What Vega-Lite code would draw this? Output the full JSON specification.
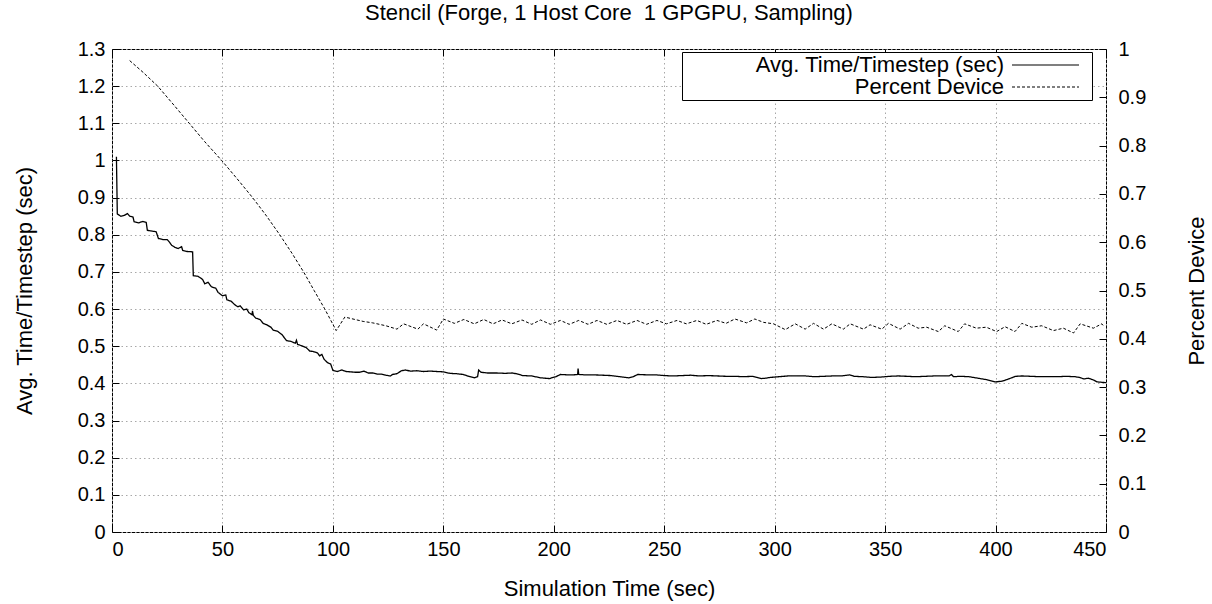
{
  "$schema": "https://vega.github.io/schema/vega-lite/v6.json",
  "width": 994,
  "height": 483,
  "autosize": {"type": "none"},
  "padding": {"left": 112, "top": 49, "right": 106, "bottom": 72},
  "background": "white",
  "title": {"text": "Stencil (Forge, 1 Host Core \u00a01 GPGPU, Sampling)", "font": "Liberation Sans", "fontSize": 22, "fontWeight": "normal", "color": "black", "baseline": "alphabetic", "offset": -3, "anchor": "middle"},
  "datasets": {
    "time": [
      {"t":2,"v":1.01},{"t":2.4,"v":0.856},{"t":4,"v":0.85},{"t":5.5,"v":0.852},{"t":7,"v":0.857},{"t":8,"v":0.85},{"t":9.5,"v":0.848},{"t":10,"v":0.835},{"t":12,"v":0.832},{"t":14,"v":0.836},{"t":15.5,"v":0.833},{"t":16,"v":0.812},{"t":18,"v":0.81},{"t":20,"v":0.808},{"t":21,"v":0.79},{"t":23,"v":0.787},{"t":25,"v":0.787},{"t":26,"v":0.78},{"t":27,"v":0.772},{"t":28.5,"v":0.766},{"t":30,"v":0.763},{"t":31.5,"v":0.768},{"t":32,"v":0.758},{"t":34,"v":0.755},{"t":36.5,"v":0.754},{"t":36.8,"v":0.69},{"t":39,"v":0.688},{"t":41,"v":0.68},{"t":42,"v":0.668},{"t":43.5,"v":0.672},{"t":45,"v":0.66},{"t":47,"v":0.656},{"t":48,"v":0.645},{"t":50,"v":0.636},{"t":51.5,"v":0.638},{"t":52,"v":0.625},{"t":54,"v":0.621},{"t":55.5,"v":0.612},{"t":57,"v":0.606},{"t":58,"v":0.609},{"t":59.5,"v":0.598},{"t":61,"v":0.6},{"t":62,"v":0.59},{"t":63.4,"v":0.585},{"t":63.6,"v":0.595},{"t":64,"v":0.583},{"t":65,"v":0.576},{"t":67,"v":0.572},{"t":68.5,"v":0.561},{"t":70,"v":0.558},{"t":72,"v":0.551},{"t":73,"v":0.543},{"t":75,"v":0.54},{"t":77,"v":0.531},{"t":79,"v":0.515},{"t":81,"v":0.513},{"t":83,"v":0.508},{"t":83.5,"v":0.516},{"t":84,"v":0.505},{"t":86,"v":0.501},{"t":88,"v":0.496},{"t":89.5,"v":0.487},{"t":91,"v":0.486},{"t":93,"v":0.482},{"t":94,"v":0.474},{"t":95,"v":0.478},{"t":96,"v":0.465},{"t":97.5,"v":0.456},{"t":99,"v":0.452},{"t":100,"v":0.435},{"t":102,"v":0.432},{"t":104,"v":0.436},{"t":106,"v":0.432},{"t":108,"v":0.431},{"t":110,"v":0.43},{"t":112,"v":0.43},{"t":114,"v":0.433},{"t":116,"v":0.428},{"t":118,"v":0.428},{"t":120,"v":0.425},{"t":122,"v":0.425},{"t":124,"v":0.422},{"t":126,"v":0.42},{"t":127,"v":0.424},{"t":129,"v":0.426},{"t":131,"v":0.434},{"t":133,"v":0.436},{"t":135,"v":0.433},{"t":138,"v":0.434},{"t":141,"v":0.432},{"t":144,"v":0.433},{"t":147,"v":0.432},{"t":150,"v":0.431},{"t":153,"v":0.427},{"t":156,"v":0.426},{"t":159,"v":0.424},{"t":162,"v":0.418},{"t":164,"v":0.415},{"t":165.5,"v":0.418},{"t":166,"v":0.436},{"t":167,"v":0.43},{"t":170,"v":0.428},{"t":174,"v":0.428},{"t":178,"v":0.427},{"t":181,"v":0.428},{"t":183,"v":0.426},{"t":186,"v":0.421},{"t":190,"v":0.42},{"t":194,"v":0.415},{"t":198,"v":0.413},{"t":201,"v":0.418},{"t":203,"v":0.424},{"t":206,"v":0.423},{"t":209,"v":0.423},{"t":210.8,"v":0.424},{"t":211,"v":0.44},{"t":211.3,"v":0.424},{"t":214,"v":0.423},{"t":218,"v":0.423},{"t":222,"v":0.422},{"t":226,"v":0.421},{"t":230,"v":0.418},{"t":234,"v":0.415},{"t":236,"v":0.418},{"t":238,"v":0.424},{"t":242,"v":0.423},{"t":246,"v":0.423},{"t":250,"v":0.421},{"t":254,"v":0.42},{"t":258,"v":0.421},{"t":262,"v":0.422},{"t":266,"v":0.42},{"t":270,"v":0.421},{"t":274,"v":0.42},{"t":278,"v":0.419},{"t":282,"v":0.419},{"t":286,"v":0.418},{"t":290,"v":0.419},{"t":292,"v":0.416},{"t":294,"v":0.413},{"t":296,"v":0.414},{"t":298,"v":0.416},{"t":302,"v":0.418},{"t":306,"v":0.42},{"t":310,"v":0.42},{"t":314,"v":0.42},{"t":318,"v":0.418},{"t":322,"v":0.419},{"t":326,"v":0.42},{"t":330,"v":0.42},{"t":334,"v":0.423},{"t":336,"v":0.419},{"t":340,"v":0.418},{"t":344,"v":0.416},{"t":348,"v":0.417},{"t":352,"v":0.419},{"t":356,"v":0.42},{"t":360,"v":0.419},{"t":364,"v":0.418},{"t":368,"v":0.419},{"t":372,"v":0.42},{"t":376,"v":0.42},{"t":379,"v":0.42},{"t":380,"v":0.424},{"t":381,"v":0.418},{"t":384,"v":0.419},{"t":388,"v":0.418},{"t":392,"v":0.414},{"t":396,"v":0.41},{"t":400,"v":0.404},{"t":403,"v":0.406},{"t":406,"v":0.412},{"t":409,"v":0.419},{"t":412,"v":0.42},{"t":416,"v":0.419},{"t":420,"v":0.418},{"t":424,"v":0.418},{"t":428,"v":0.418},{"t":432,"v":0.419},{"t":436,"v":0.418},{"t":438,"v":0.416},{"t":440,"v":0.412},{"t":442,"v":0.414},{"t":444,"v":0.41},{"t":446,"v":0.404},{"t":450,"v":0.402}
    ],
    "pct": [
      {"t":8,"v":0.976},{"t":14,"v":0.952},{"t":20.7,"v":0.923},{"t":28,"v":0.884},{"t":35,"v":0.846},{"t":42,"v":0.808},{"t":49.7,"v":0.769},{"t":56.7,"v":0.731},{"t":63.7,"v":0.692},{"t":70,"v":0.654},{"t":76,"v":0.615},{"t":81.5,"v":0.577},{"t":86.8,"v":0.538},{"t":91.5,"v":0.5},{"t":96.3,"v":0.462},{"t":101.5,"v":0.417},{"t":105.4,"v":0.445},{"t":110,"v":0.44},{"t":113.7,"v":0.436},{"t":118,"v":0.433},{"t":124,"v":0.427},{"t":129,"v":0.42},{"t":132,"v":0.431},{"t":138.5,"v":0.42},{"t":141,"v":0.431},{"t":147,"v":0.418},{"t":150,"v":0.441},{"t":155,"v":0.432},{"t":159.3,"v":0.44},{"t":164,"v":0.431},{"t":168.3,"v":0.44},{"t":172.5,"v":0.431},{"t":176.6,"v":0.439},{"t":181,"v":0.431},{"t":185.6,"v":0.439},{"t":190,"v":0.43},{"t":194,"v":0.439},{"t":198.5,"v":0.43},{"t":203,"v":0.438},{"t":207,"v":0.43},{"t":211.3,"v":0.438},{"t":215.5,"v":0.43},{"t":219.6,"v":0.438},{"t":224,"v":0.43},{"t":228.6,"v":0.438},{"t":233,"v":0.43},{"t":237.7,"v":0.438},{"t":242,"v":0.43},{"t":246.7,"v":0.438},{"t":251,"v":0.431},{"t":255.8,"v":0.438},{"t":260,"v":0.431},{"t":264.8,"v":0.438},{"t":269,"v":0.43},{"t":273.9,"v":0.438},{"t":278,"v":0.432},{"t":282,"v":0.441},{"t":287.3,"v":0.433},{"t":291,"v":0.441},{"t":295,"v":0.434},{"t":299.5,"v":0.431},{"t":304.8,"v":0.419},{"t":309.3,"v":0.431},{"t":313.8,"v":0.42},{"t":317.6,"v":0.432},{"t":322.1,"v":0.42},{"t":325.9,"v":0.431},{"t":331.1,"v":0.42},{"t":334.2,"v":0.431},{"t":340.2,"v":0.42},{"t":343.2,"v":0.429},{"t":348.5,"v":0.42},{"t":351.5,"v":0.432},{"t":356.8,"v":0.42},{"t":360.6,"v":0.432},{"t":365,"v":0.422},{"t":368.8,"v":0.424},{"t":374.1,"v":0.415},{"t":377,"v":0.427},{"t":383.1,"v":0.415},{"t":386,"v":0.431},{"t":391.3,"v":0.422},{"t":395.8,"v":0.424},{"t":400.5,"v":0.415},{"t":404.3,"v":0.425},{"t":408.8,"v":0.415},{"t":411.9,"v":0.432},{"t":416.4,"v":0.424},{"t":420.9,"v":0.427},{"t":426.2,"v":0.417},{"t":430.7,"v":0.422},{"t":435.3,"v":0.412},{"t":438.3,"v":0.431},{"t":444.3,"v":0.422},{"t":448.1,"v":0.431},{"t":449,"v":0.426}
    ]
  },
  "layer": [
    {
      "data": {"name": "time"},
      "mark": {"type": "line", "color": "black", "strokeWidth": 1.3},
      "encoding": {
        "x": {"field": "t", "type": "quantitative", "scale": {"domain": [0, 450], "nice": false},
              "axis": {"orient": "bottom", "title": "Simulation Time (sec)", "values": [0,50,100,150,200,250,300,350,400,450], "grid": true, "labelPadding": 14, "titleY": 63.5, "titleBaseline": "alphabetic"}},
        "y": {"field": "v", "type": "quantitative", "scale": {"domain": [0, 1.3], "nice": false},
              "axis": {"orient": "left", "title": "Avg. Time/Timestep (sec)", "values": [0,0.1,0.2,0.3,0.4,0.5,0.6,0.7,0.8,0.9,1,1.1,1.2,1.3], "format": "~g", "grid": true, "labelPadding": 14, "titleAngle": -90, "titleX": -81, "titleBaseline": "alphabetic"}},
        "strokeDash": {"datum": "Avg. Time/Timestep (sec)", "type": "nominal",
              "scale": {"domain": ["Avg. Time/Timestep (sec)", "Percent Device"], "range": [[1, 0], [3, 2]]},
              "legend": {"title": null, "orient": "none", "legendX": 570, "legendY": 3}}
      }
    },
    {
      "data": {"name": "pct"},
      "mark": {"type": "line", "color": "black", "strokeWidth": 1},
      "encoding": {
        "x": {"field": "t", "type": "quantitative", "scale": {"domain": [0, 450], "nice": false},
              "axis": {"orient": "top", "title": null, "labels": false, "grid": false, "values": [0,50,100,150,200,250,300,350,400,450]}},
        "y": {"field": "v", "type": "quantitative", "scale": {"domain": [0, 1], "nice": false},
              "axis": {"orient": "right", "title": "Percent Device", "values": [0,0.1,0.2,0.3,0.4,0.5,0.6,0.7,0.8,0.9,1], "format": "~g", "grid": false, "labelPadding": 19, "titleAngle": -90, "titleX": 97, "titleBaseline": "alphabetic"}},
        "strokeDash": {"datum": "Percent Device", "type": "nominal",
              "scale": {"domain": ["Avg. Time/Timestep (sec)", "Percent Device"], "range": [[1, 0], [3, 2]]}}
      }
    }
  ],
  "resolve": {"scale": {"y": "independent"}, "axis": {"x": "independent"}},
  "config": {
    "view": {"stroke": "black", "strokeWidth": 1},
    "axis": {"domain": false, "tickSize": -7, "tickColor": "black", "tickWidth": 1, "labelFont": "Liberation Sans", "labelFontSize": 20, "labelColor": "black", "titleFont": "Liberation Sans", "titleFontSize": 22, "titleFontWeight": "normal", "titleColor": "black", "gridColor": "#a8a8a8", "gridDash": [1.5, 3], "gridWidth": 1},
    "legend": {"symbolType": "M63.4,0L76.8,0M78.4,0", "symbolSize": 100, "symbolStrokeWidth": 1.2, "symbolStrokeColor": "black", "symbolFillColor": "transparent", "labelAlign": "right", "labelOffset": 298, "labelLimit": 800, "labelFont": "Liberation Sans", "labelFontSize": 22, "labelColor": "black", "labelExpr": "'\u00a0\u00a0\u00a0\u00a0\u00a0\u00a0\u00a0\u00a0\u00a0\u00a0' + datum.label", "strokeColor": "black", "fillColor": "white", "padding": 2, "rowPadding": -10}
  }
}
